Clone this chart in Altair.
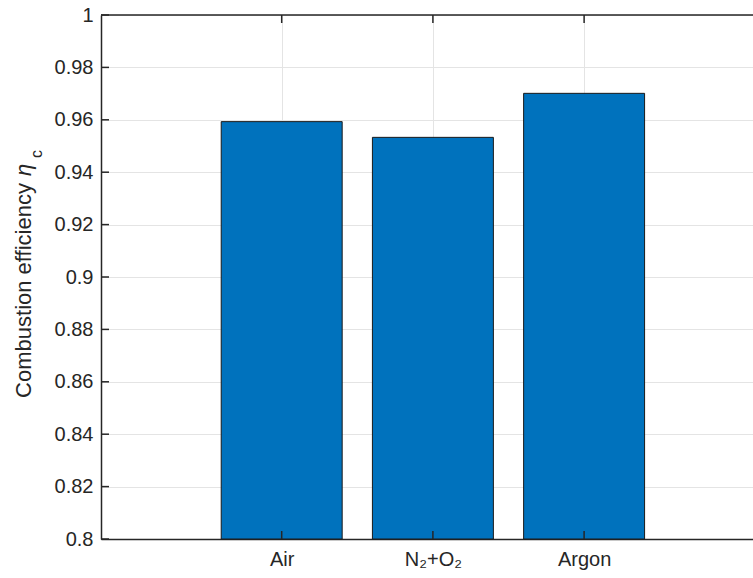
import json
import altair as alt
import pandas as pd

# ---- data ----
categories = ["Air", "N₂+O₂", "Argon"]
positions = [1, 2, 3]
efficiency = [0.9593, 0.9533, 0.9701]
y_ticks = [0.8, 0.82, 0.84, 0.86, 0.88, 0.9, 0.92, 0.94, 0.96, 0.98, 1.0]
x_domain = [-0.195, 4.117]
y_domain = [0.8, 1.0]
bar_half = 0.4

W, H = 652, 524
FONT = "Liberation Sans"
AX = "#262626"

df = pd.DataFrame({"pos": positions, "eff": efficiency, "cat": categories})
df["x0"] = df["pos"] - bar_half
df["x1"] = df["pos"] + bar_half
ticks_df = pd.DataFrame({"t": y_ticks})
one = pd.DataFrame({"a": [0]})

xs = alt.Scale(domain=x_domain, nice=False, zero=False)
ys = alt.Scale(domain=y_domain, nice=False, zero=False)

label_expr = f"{json.dumps(categories, ensure_ascii=False)}[datum.value - 1]"
x_axis = alt.Axis(values=positions, labelExpr=label_expr, grid=True, ticks=False,
                  labelPadding=10, title=None, orient="bottom")
y_axis = alt.Axis(values=y_ticks, format="~g", grid=True, ticks=False, labelPadding=8,
                  title="Combustion efficiency", titleX=-78, titleY=275,
                  titleAngle=270, titleAlign="center", titleBaseline="middle",
                  titleFontSize=22, titleFontWeight="normal")

bars = alt.Chart(df).mark_bar(color="#0072BD", stroke="#1a1a1a", strokeWidth=1).encode(
    x=alt.X("x0:Q", scale=xs, axis=x_axis),
    x2="x1:Q",
    y=alt.Y("eff:Q", scale=ys, axis=y_axis),
    y2=alt.datum(0.8),
)

tick_bottom = alt.Chart(df).mark_rule(color=AX, strokeWidth=1.5).encode(
    x=alt.X("pos:Q", scale=xs, axis=x_axis), y=alt.value(H - 8), y2=alt.value(H))
tick_top = alt.Chart(df).mark_rule(color=AX, strokeWidth=1.5).encode(
    x=alt.X("pos:Q", scale=xs, axis=x_axis), y=alt.value(0), y2=alt.value(8))
tick_left = alt.Chart(ticks_df).mark_rule(color=AX, strokeWidth=1.5).encode(
    y=alt.Y("t:Q", scale=ys, axis=y_axis), x=alt.value(0), x2=alt.value(8))
top_line = alt.Chart(one).mark_rule(color=AX, strokeWidth=1.5).encode(
    x=alt.value(0), x2=alt.value(W), y=alt.value(0))
eta = alt.Chart(one).mark_text(text="η", angle=270, fontSize=22, font=FONT, fontStyle="italic",
                               color=AX, baseline="middle", align="center").encode(
    x=alt.value(-77), y=alt.value(155))
sub_c = alt.Chart(one).mark_text(text="c", angle=270, fontSize=16, font=FONT, color=AX,
                                 baseline="middle", align="center").encode(
    x=alt.value(-64), y=alt.value(139))

chart = alt.layer(bars, tick_bottom, tick_top, tick_left, top_line, eta, sub_c).properties(
    width=W, height=H,
    padding={"left": 101, "top": 15, "right": 0, "bottom": 39},
    autosize=alt.AutoSizeParams(type="none"),
).configure_view(stroke=None).configure_axis(
    labelFont=FONT, titleFont=FONT, labelFontSize=20, labelColor=AX, titleColor=AX,
    domainColor=AX, domainWidth=1.5, gridColor="#e4e4e4", gridWidth=1,
)

chart.save("out.html", embed_options={"renderer": "svg", "actions": False})
